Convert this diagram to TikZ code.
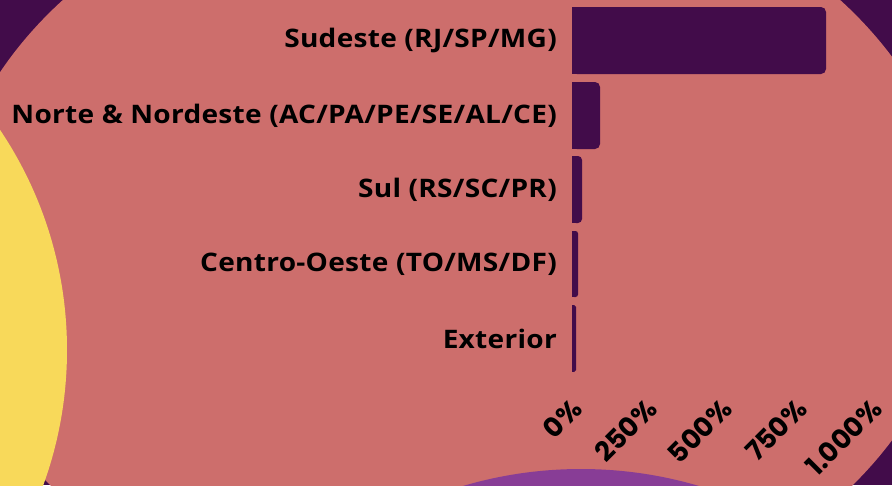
\documentclass[tikz,border=0pt]{standalone}
\usepackage{fontspec}
\setmainfont{Open Sans}
\newfontfamily\tickfont{Poppins}
\definecolor{bgpurple}{HTML}{420C4A}
\definecolor{salmon}{HTML}{CD6E6C}
\definecolor{sunyellow}{HTML}{F8D95A}
\definecolor{violet}{HTML}{883D96}
\tikzset{
  barfill/.style={fill=bgpurple},
  cat/.style={anchor=east, inner sep=0pt, font=\fontsize{25.5}{30}\selectfont\bfseries\addfontfeature{FakeStretch=1.1,LetterSpace=1.1}, text=black},
  tick/.style={anchor=east, inner sep=0pt, rotate=45, font=\tickfont\fontsize{27}{30}\selectfont\bfseries, text=black},
}
\begin{document}
\begin{tikzpicture}[x=1pt,y=-1pt]
\fill[bgpurple] (0,0) rectangle (892,485);
\useasboundingbox (0,0) rectangle (892,485);
\begin{scope}
\clip (0,0) rectangle (892,485);
\fill[salmon] (451.5,248.5) ellipse [x radius=507pt, y radius=387pt];
\fill[sunyellow] (-328,350) circle [radius=395pt];
\fill[violet] (581,885) circle [radius=416pt];
\end{scope}
% bars
\fill[barfill, rounded corners=5pt] (572,7) rectangle (826,74);
\fill[barfill] (572,7) rectangle (590,74);
\fill[barfill, rounded corners=5pt] (572,82) rectangle (600,149);
\fill[barfill] (572,82) rectangle (584,149);
\fill[barfill, rounded corners=4pt] (572,156) rectangle (582,223);
\fill[barfill] (572,156) rectangle (576,223);
\fill[barfill, rounded corners=2.5pt] (572,231) rectangle (578,297);
\fill[barfill] (572,231) rectangle (574,297);
\fill[barfill, rounded corners=1.8pt] (572,305) rectangle (576,372);
\fill[barfill] (572,305) rectangle (573.5,372);
% category labels
\node[cat] (l1) at (557,40.5) {Sudeste (RJ/SP/MG)};
\node[cat] (l2) at (557,115.5) {Norte \& Nordeste (AC/PA/PE/SE/AL/CE)};
\node[cat] (l3) at (557,189.5) {Sul (RS/SC/PR)};
\node[cat] (l4) at (557,264) {Centro-Oeste (TO/MS/DF)};
\node[cat] (l5) at (557,338.5) {Exterior};
% tick labels
\node[tick] (t0) at (577,404) {0\%};
\node[tick] (t1) at (652,404) {250\%};
\node[tick] (t2) at (727,404) {500\%};
\node[tick] (t3) at (802,404) {750\%};
\node[tick] (t4) at (877,404) {1.000\%};
\end{tikzpicture}
\end{document}
